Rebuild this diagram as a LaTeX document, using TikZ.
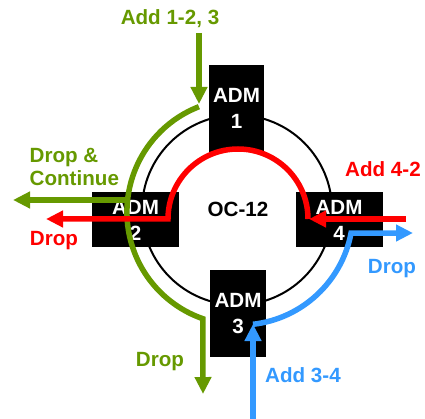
\documentclass[tikz,border=0pt]{standalone}
\usepackage{fontspec}
\setmainfont{Liberation Sans}
\usetikzlibrary{arrows.meta}
\definecolor{flowgreen}{HTML}{669900}
\definecolor{flowred}{HTML}{FF0000}
\definecolor{flowblue}{HTML}{3399FF}

\begin{document}
\begin{tikzpicture}[x=1pt,y=1pt,
  lbl/.style={font=\fontsize{20.6}{25}\selectfont\bfseries, inner sep=0pt, anchor=base},
  admbox/.style={fill=black, text=white, inner sep=0pt, align=center,
    font=\fontsize{20.6}{26}\selectfont\bfseries},
  tallbox/.style={admbox, minimum width=55pt, minimum height=87pt},
  widebox/.style={admbox, minimum width=87pt, minimum height=55pt},
  ring/.style={draw=black, line width=2pt},
  flow/.style={line width=5.5pt},
  tip/.style={-{Triangle[length=17pt,width=16pt]}},
]
\useasboundingbox (0,0) rectangle (425,-419);

% OC-12 ring
\coordinate (ringc) at (237,-210);
\draw[ring] (ringc) circle[radius=95];

% add/drop multiplexers
\node[tallbox] (adm1) at (236.5,-108.5) {ADM\\1};
\node[widebox] (adm2) at (135.5,-220) {ADM\\2};
\node[widebox] (adm4) at (339,-220) {ADM\\4};
\node[tallbox, minimum width=56pt] (adm3) at (238,-313.5) {ADM\\3};

\node[lbl] (oc) at (238,-217) {OC-12};

% labels
\node[lbl, text=flowgreen] (add123) at (170,-25) {Add 1-2, 3};
\node[lbl, text=flowgreen, anchor=base west] (dropamp) at (29.5,-163) {Drop \&};
\node[lbl, text=flowgreen, anchor=base west] (cont) at (29.5,-186) {Continue};
\node[lbl, text=flowgreen] (gdrop) at (160,-366) {Drop};
\node[lbl, text=flowred] (add42) at (383,-177) {Add 4-2};
\node[lbl, text=flowred] (rdrop) at (54,-246) {Drop};
\node[lbl, text=flowblue] (bdrop) at (392,-273) {Drop};
\node[lbl, text=flowblue] (add34) at (303,-382) {Add 3-4};

% green: add at ADM 1, drop & continue at ADM 2, drop at ADM 3
\coordinate (gin) at (199,-33);
\coordinate (gintip) at (199,-104);
\coordinate (garc) at (198.9,-106.7);
\coordinate (gbranch) at (127.6,-200);
\coordinate (gout2) at (13,-200);
\coordinate (gout3) at (203,-394);
\draw[flow, flowgreen, tip] (gin) -- (gintip);
\draw[flow, flowgreen, tip] (garc) arc[start angle=111.3, end angle=250.9, radius=113] -- (gout3);
\draw[flow, flowgreen, tip] (gbranch) -- (gout2);

% red: add at ADM 4, drop at ADM 2
\coordinate (rin) at (406,-219);
\coordinate (rintip) at (309,-219);
\coordinate (rarc) at (308,-219);
\coordinate (rout) at (46,-219);
\draw[flow, flowred, tip] (rin) -- (rintip);
\draw[flow, flowred, tip] (rarc) arc[start angle=0, end angle=180, radius=70] -- (rout);

% blue: add at ADM 3, drop at ADM 4
\coordinate (bin) at (253,-419);
\coordinate (bintip) at (253,-324);
\coordinate (barc) at (253,-324.3);
\coordinate (bout) at (413,-233);
\draw[flow, flowblue, tip] (bin) -- (bintip);
\draw[flow, flowblue, tip] (barc) arc[start angle=-83.4, end angle=-10.7, radius=113] -- (bout);
\end{tikzpicture}
\end{document}
